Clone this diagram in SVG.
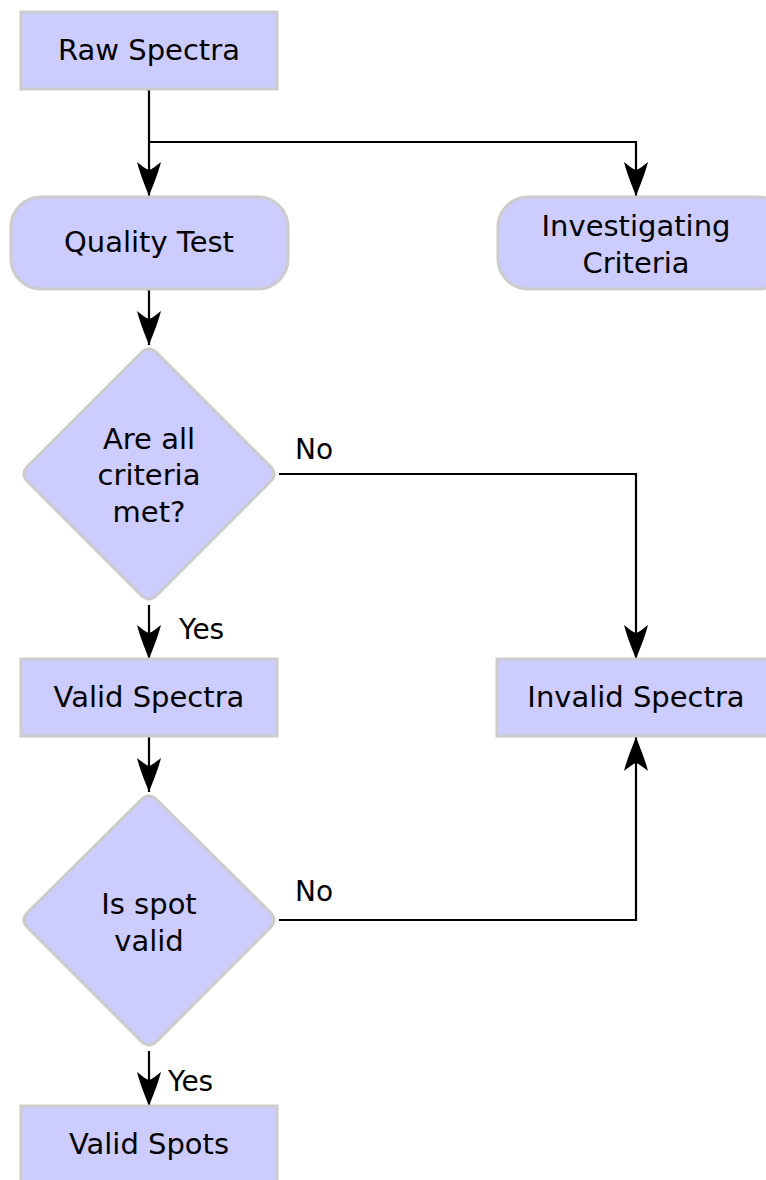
<svg xmlns="http://www.w3.org/2000/svg" width="766" height="1180" viewBox="0 0 766 1180">
<style>
.n{fill:#ccccff;stroke:#cccccc;stroke-width:3}
.t{font-family:"DejaVu Sans",sans-serif;font-size:29px;fill:#000;text-anchor:middle}
.l{font-family:"DejaVu Sans",sans-serif;font-size:28px;fill:#000}
.c{fill:none;stroke:#000;stroke-width:2.2;marker-end:url(#ah)}
</style>
<defs>
<marker id="ah" markerUnits="userSpaceOnUse" orient="auto" markerWidth="40" markerHeight="30" viewBox="-36 -15 40 30" refX="0" refY="0">
<path d="M0,0 C-8,-3 -22,-9 -34,-12 C-30,-7 -27,-3 -26,0 C-27,3 -30,7 -34,12 C-22,9 -8,3 0,0 Z" fill="#000"/>
</marker>
</defs>
<rect width="766" height="1180" fill="#fff"/>
<g id="connectors">
<path class="c" d="M149,89 V196"/>
<path class="c" d="M149,142 H636 V196"/>
<path class="c" d="M149,289 V345"/>
<path class="c" d="M279,474 H636 V659"/>
<path class="c" d="M149,605 V659"/>
<path class="c" d="M149,736 V792"/>
<path class="c" d="M279,920 H636 V737"/>
<path class="c" d="M149,1051 V1106"/>
<text class="l" x="295" y="459">No</text>
<text class="l" x="179" y="639">Yes</text>
<text class="l" x="295" y="901">No</text>
<text class="l" x="168" y="1091">Yes</text>
</g>
<g id="raw-spectra">
<rect class="n" x="21" y="12" width="256" height="77"/>
<text class="t" x="149" y="60">Raw Spectra</text>
</g>
<g id="quality-test">
<rect class="n" x="11" y="197" width="277" height="92" rx="30" ry="30"/>
<text class="t" x="149" y="252">Quality Test</text>
</g>
<g id="investigating-criteria">
<rect class="n" x="498" y="197" width="290" height="92" rx="30" ry="30"/>
<text class="t" x="636" y="236">Investigating</text>
<text class="t" x="636" y="273">Criteria</text>
</g>
<g id="criteria-met">
<path class="n" d="M141,353 Q149,345 157,353 L270,466 Q278,474 270,482 L157,595 Q149,603 141,595 L28,482 Q20,474 28,466 Z"/>
<text class="t" x="149" y="449">Are all</text>
<text class="t" x="149" y="485">criteria</text>
<text class="t" x="149" y="522">met?</text>
</g>
<g id="valid-spectra">
<rect class="n" x="21" y="659" width="256" height="77"/>
<text class="t" x="149" y="707">Valid Spectra</text>
</g>
<g id="invalid-spectra">
<rect class="n" x="497" y="659" width="290" height="77"/>
<text class="t" x="636" y="707">Invalid Spectra</text>
</g>
<g id="spot-valid">
<path class="n" d="M141,800 Q149,792 157,800 L270,912 Q278,920 270,928 L157,1041 Q149,1049 141,1041 L28,928 Q20,920 28,912 Z"/>
<text class="t" x="149" y="914">Is spot</text>
<text class="t" x="149" y="951">valid</text>
</g>
<g id="valid-spots">
<rect class="n" x="21" y="1106" width="256" height="90"/>
<text class="t" x="149" y="1154">Valid Spots</text>
</g>
</svg>
